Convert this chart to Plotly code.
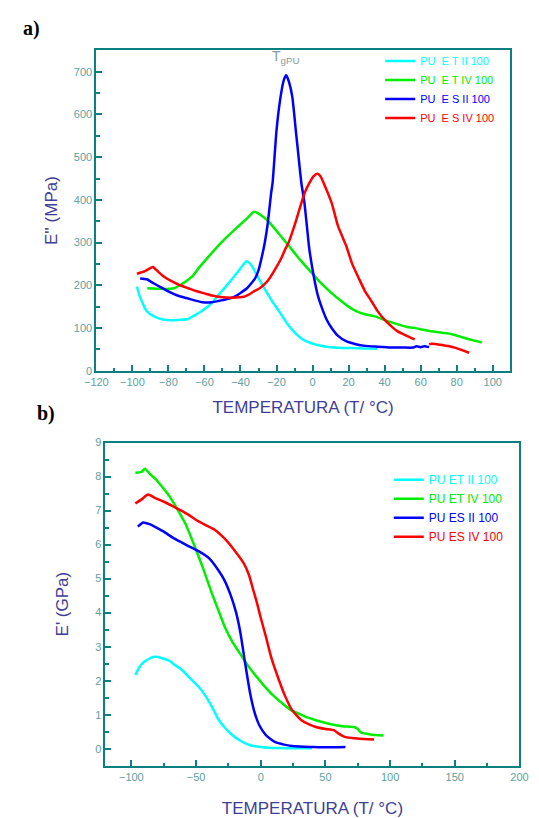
import plotly.graph_objects as go

# ---------------- Panel a: E'' (MPa) vs temperature ----------------
a_cyan_x = [-97.5, -96, -94, -92, -88, -83.3, -78, -73.6, -69, -66.5, -62, -59.4, -55.5, -52.3, -48.5,
            -45.2, -41, -38.5, -36.7, -34.5, -32.8, -29.5, -25.7, -22, -18.6, -14, -9.8, -5, 0.9, 6,
            11.5, 17, 22, 28, 36]
a_cyan_y = [197, 175, 155, 139, 127, 120, 118, 119, 121, 127, 138, 146, 160, 177, 195,
            212, 234, 248, 256, 250, 239, 213, 185, 160, 139, 110, 89, 72, 62, 57,
            54, 53, 53, 52, 51]

a_green_x = [-91.7, -86, -80.7, -77, -73.6, -70, -66.5, -64, -61.2, -55, -48.8, -42, -36, -32.4, -28,
             -23.9, -18.6, -13.3, -7, -0.9, 4, 10, 15, 20, 23.9, 29, 34.6, 41, 47, 52, 57.6, 65,
             71.8, 77, 82.4, 88, 93.9]
a_green_y = [193, 192, 191, 193, 200, 210, 222, 236, 250, 280, 308, 335, 358, 372, 362,
             347, 320, 293, 260, 231, 208, 184, 166, 150, 140, 132, 127, 117, 109, 103, 99, 93,
             89, 86, 79, 72, 66]

a_blue_x = [-95.7, -92, -89.6, -85, -79.8, -75, -70, -65, -61.2, -56, -52.3, -48, -43.5, -40, -36.4,
            -33.5, -31.9, -30, -28.4, -26.5, -24.8, -23, -22.2, -20, -17.8, -16, -14.6, -13, -11.2,
            -9.3, -7.5, -6.2, -4.5, -1.8, 0.9, 3, 5.3, 8, 10.6, 14, 18.6, 24, 29.3, 36, 43.4, 50,
            55.9, 57.6, 60, 62, 64.7]
a_blue_y = [216, 214, 208, 197, 185, 176, 170, 164, 160, 160, 163, 167, 173, 182, 193,
            207, 216, 235, 262, 300, 347, 416, 439, 563, 640, 680, 692, 675, 640,
            563, 490, 439, 393, 285, 216, 175, 146, 118, 100, 82, 69, 62, 58, 56, 54, 54,
            54, 57, 55, 57, 55]

a_red_x = [-97.5, -93, -88.7, -85.5, -82.4, -78, -73.6, -69, -64.7, -60, -55.9, -50, -45.2, -41, -38.1,
           -35, -32.8, -29.3, -26.5, -23.9, -20.4, -17.5, -15.1, -13.3, -10, -6.2, -4, -1.8, 0.5, 2.7,
           4.5, 6.2, 10.6, 14.1, 18.6, 22, 25.7, 29, 32.8, 36, 39.9, 43.5, 47, 52, 56.7, None,
           64.7, 66, 71.8, 78.9, 83, 86.9]
a_red_y = [227, 233, 243, 231, 220, 209, 200, 193, 186.5, 181, 176, 172, 171, 172, 173,
           179, 185, 193, 203, 216, 240, 262, 285, 300, 340, 393, 420, 439, 455, 461,
           455, 439, 393, 339, 293, 250, 216, 187, 162, 140, 119.5, 105, 92.5, 82, 73, None,
           62, 63, 60, 54, 48, 42]

# ---------------- Panel b: E' (GPa) vs temperature ----------------
b_cyan_x = [-96.9, -94, -92, -87, -82.1, -76, -70, -67.4, -61, -55.1, -48, -42.8, -37, -33, -28,
            -23.1, -16, -8.3, 0, 6.4, 15, 25, 39.6]
b_cyan_y = [2.17, 2.38, 2.49, 2.63, 2.70, 2.66, 2.57, 2.49, 2.32, 2.09, 1.82, 1.56, 1.18, 0.88, 0.63,
            0.44, 0.24, 0.10, 0.05, 0.03, 0.02, 0.01, 0.01]

b_green_x = [-96.9, -92, -89.5, -85, -81, -77.3, -72, -68, -64.9, -58, -52.6, -45, -37.9, -33, -28,
             -22, -15.7, -10, -5, 1.5, 10, 18.7, 24, 30, 36, 43.3, 52, 63, 72.8, 75, 77.7, 85, 95]
b_green_y = [8.11, 8.14, 8.23, 8.05, 7.92, 7.75, 7.5, 7.27, 7.07, 6.6, 6.1, 5.35, 4.58, 4.1, 3.6,
             3.15, 2.78, 2.45, 2.2, 1.90, 1.55, 1.27, 1.12, 1.02, 0.92, 0.83, 0.74, 0.66, 0.63, 0.58,
             0.47, 0.42, 0.39]

b_blue_x = [-95, -90.8, -86, -82.1, -75, -67.4, -58, -47.7, -40, -33, -28, -23.1, -19, -15.7, -12,
            -8.3, -5, -1, 4, 11.3, 18, 26, 40, 50, 65.5]
b_blue_y = [6.53, 6.65, 6.6, 6.53, 6.38, 6.19, 6.0, 5.8, 5.6, 5.26, 4.95, 4.5, 4.0, 3.41, 2.5,
            1.65, 1.1, 0.68, 0.4, 0.19, 0.12, 0.07, 0.05, 0.04, 0.05]

b_red_x = [-96.9, -92, -87.1, -81, -74.8, -68, -62.5, -56, -50.2, -43, -35.4, -28, -20.7, -13.3, -9,
           -5.9, -3, 0, 3.9, 8, 13.8, 18.7, 24, 31, 37, 43.3, 50, 56.8, 60, 65.5, 75, 87.6]
b_red_y = [7.21, 7.33, 7.47, 7.36, 7.26, 7.13, 7.02, 6.88, 6.73, 6.58, 6.43, 6.18, 5.85, 5.46, 5.1,
           4.68, 4.3, 3.85, 3.31, 2.7, 2.05, 1.56, 1.15, 0.85, 0.72, 0.63, 0.58, 0.54, 0.45, 0.34, 0.3,
           0.27]

names_a = ["PU\u00a0 E T II 100", "PU\u00a0 E T IV 100", "PU\u00a0 E S II 100", "PU\u00a0 E S IV 100"]
names_b = ["PU ET II 100", "PU ET IV 100", "PU ES II 100", "PU ES IV 100"]
colors = ["#00ffff", "#00ee00", "#0000ff", "#ff0000"]

series_a = [(a_cyan_x, a_cyan_y), (a_green_x, a_green_y), (a_blue_x, a_blue_y), (a_red_x, a_red_y)]
series_b = [(b_cyan_x, b_cyan_y), (b_green_x, b_green_y), (b_blue_x, b_blue_y), (b_red_x, b_red_y)]

TEAL = "#0b8080"
TICKC = "#5e9fa0"
TITLEC = "#3e3e98"
FONT = "Liberation Sans, Arial, sans-serif"

fig = go.Figure()
for (x, y), n, c in zip(series_a, names_a, colors):
    fig.add_trace(go.Scatter(x=x, y=y, mode="lines",
                             line=dict(color=c, width=2.5, shape="spline", smoothing=0.5),
                             name=f"<span style='color:{c}'>{n}</span>",
                             xaxis="x", yaxis="y", legend="legend", connectgaps=False))
for (x, y), n, c in zip(series_b, names_b, colors):
    fig.add_trace(go.Scatter(x=x, y=y, mode="lines",
                             line=dict(color=c, width=2.5, shape="spline", smoothing=0.5),
                             name=f"<span style='color:{c}'>{n}</span>",
                             xaxis="x2", yaxis="y2", legend="legend2"))

# The page body has an 8px margin; the figure is sized so it fills the 539x818 window.
OFF = 8
W, H = 539 - OFF, 818 - OFF


def px(xp):
    return (xp - OFF) / W


def py(yp):
    return 1 - (yp - OFF) / H


def axis_common(**kw):
    d = dict(showline=True, linecolor=TEAL, linewidth=2, mirror=True,
             ticks="inside", ticklen=6, tickwidth=2, tickcolor=TEAL,
             showgrid=False, zeroline=False,
             tickfont=dict(family=FONT, size=11, color=TICKC),
             title_font=dict(family=FONT, size=17, color=TITLEC))
    d.update(kw)
    return d


fig.update_layout(
    width=W, height=H,
    margin=dict(l=0, r=0, t=0, b=0),
    paper_bgcolor="white", plot_bgcolor="white",
    xaxis=axis_common(domain=[px(87.5), px(518)], anchor="y", range=[-120, 109.5], dtick=20,
                      minor=dict(dtick=10, ticklen=3, tickwidth=2, tickcolor=TEAL, ticks="inside"),
                      title=dict(text="TEMPERATURA (T/ °C)", standoff=14)),
    yaxis=axis_common(domain=[py(370), py(45)], anchor="x", range=[0, 750], dtick=100,
                      minor=dict(dtick=50, ticklen=4, tickwidth=2, tickcolor=TEAL, ticks="inside"),
                      title=dict(text="E'' (MPa)", standoff=12)),
    xaxis2=axis_common(domain=[px(97), px(528)], anchor="y2", range=[-120, 200], dtick=50,
                       minor=dict(dtick=25, ticklen=3, tickwidth=2, tickcolor=TEAL, ticks="inside"),
                       title=dict(text="TEMPERATURA (T/ °C)", standoff=20)),
    yaxis2=axis_common(domain=[py(771), py(443)], anchor="x2", range=[-0.5, 9], dtick=1,
                       minor=dict(dtick=0.5, ticklen=4, tickwidth=2, tickcolor=TEAL, ticks="inside"),
                       title=dict(text="E' (GPa)", standoff=22)),
    legend=dict(x=px(383), y=py(41), xanchor="left", yanchor="top",
                bgcolor="rgba(0,0,0,0)", font=dict(family=FONT, size=11),
                tracegroupgap=0, itemwidth=30),
    legend2=dict(x=px(392), y=py(466), xanchor="left", yanchor="top",
                 bgcolor="rgba(0,0,0,0)", font=dict(family=FONT, size=12),
                 tracegroupgap=0, itemwidth=30),
    showlegend=True,
)

fig.add_annotation(x=-14.5, y=735, xref="x", yref="y", text="T<sub>gPU</sub>",
                   showarrow=False, font=dict(family=FONT, size=14, color="#8a9c9c"))
fig.add_annotation(x=px(9), y=py(23), xref="paper", yref="paper", text="<b>a)</b>",
                   xanchor="left", yanchor="middle", showarrow=False,
                   font=dict(family="Liberation Serif, Times New Roman, serif", size=20, color="black"))
fig.add_annotation(x=px(24), y=py(414), xref="paper", yref="paper", text="<b>b)</b>",
                   xanchor="left", yanchor="middle", showarrow=False,
                   font=dict(family="Liberation Serif, Times New Roman, serif", size=20, color="black"))

fig.write_html("out.html")
